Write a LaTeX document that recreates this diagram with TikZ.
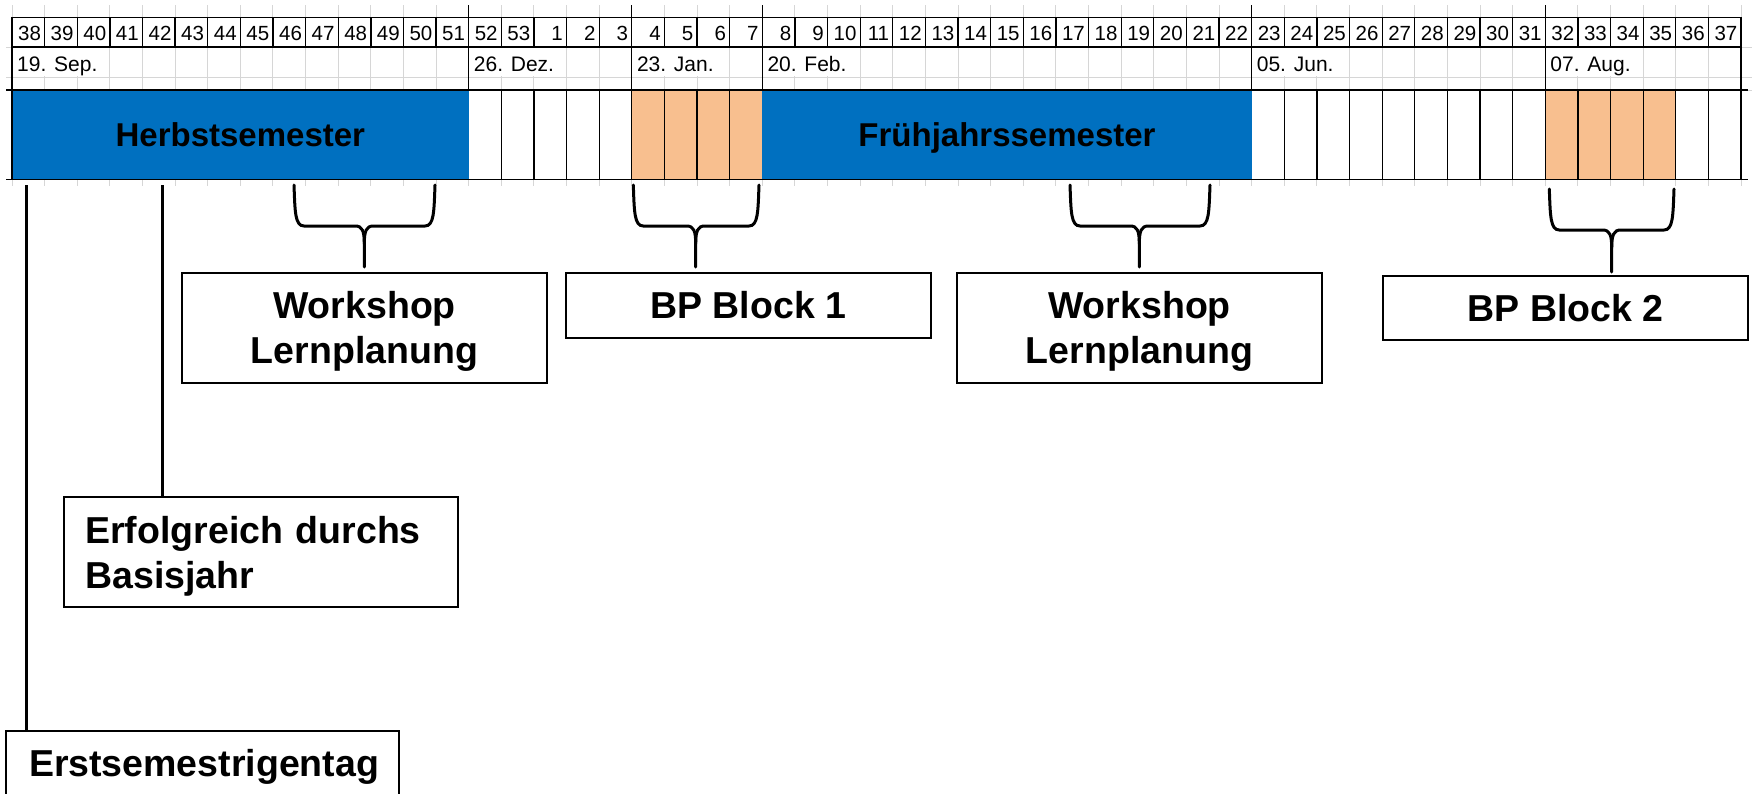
\documentclass[tikz,border=0pt]{standalone}
\usepackage{fontspec}
\setmainfont{Liberation Sans}
\definecolor{semblue}{RGB}{0,112,192}
\definecolor{blockorange}{RGB}{248,191,143}
\definecolor{gridgray}{RGB}{214,214,214}
\newcommand{\cw}{32.6226}
\newcommand{\bracepath}[7]{% xl, xr, xm, yt, yh, yb, tipname
  \coordinate (#7) at (#3,#6);
  \draw[bracestyle] (#1,#4) .. controls (#1+1,#5-14) and (#1+1,#5) .. (#1+10,#5) -- (#3-9,#5) .. controls (#3-2,#5) and (#3,#5+5) .. (#3,#5+18) -- (#7);
  \draw[bracestyle] (#2,#4) .. controls (#2-1,#5-14) and (#2-1,#5) .. (#2-10,#5) -- (#3+9,#5) .. controls (#3+2,#5) and (#3,#5+5) .. (#3,#5+18);
}
\begin{document}
\begin{tikzpicture}[x=1pt,y=-1pt,
  wk/.style={font=\fontsize{20.5}{24}\selectfont, anchor=base east, inner sep=0},
  dt/.style={font=\fontsize{21}{24}\selectfont, anchor=base west, inner sep=0},
  cellline/.style={black, line width=1.3pt},
  semester/.style={fill=semblue, inner sep=0, text height=23.9pt, text depth=0pt, font=\fontsize{33}{38}\selectfont\bfseries},
  lbl/.style={draw, line width=2pt, inner sep=0, font=\fontsize{37.5}{45}\selectfont\bfseries, align=center},
  bracestyle/.style={black, line width=3pt, line cap=round},
  conn/.style={black, line width=3pt}]
\useasboundingbox (0,0) rectangle (1752,793);
\fill[white] (0,0) rectangle (1752,793);

% light spreadsheet grid
\foreach \c in {0,...,53} {
  \draw[gridgray, line width=1pt] ({12+\c*\cw},5) -- ({12+\c*\cw},186);
}
\draw[gridgray, line width=1pt] (6,77) -- (1752,77);
\draw[gridgray, line width=1pt] (6,47) -- (1752,47);
\draw[gridgray, line width=1pt] (6,90) -- (1752,90);

% week number row
\draw[cellline] (12,17.7) rectangle (1741,47);
\foreach \c in {1,...,52} {
  \draw[cellline] ({12+\c*\cw},17.7) -- ({12+\c*\cw},47);
}
\foreach \w [count=\c from 0] in {38,39,40,41,42,43,44,45,46,47,48,49,50,51,52,53,1,2,3,4,5,6,7,8,9,10,11,12,13,14,15,16,17,18,19,20,21,22,23,24,25,26,27,28,29,30,31,32,33,34,35,36,37} {
  \node[wk] (w\c) at ({12+(\c+1)*\cw-3.5},40.7) {\w};
}

% date cells (text hides the grid of the cells it spills into)
\foreach \c in {0,14,19,23,38,47} {
  \fill[white] ({12+\c*\cw+0.8},47.8) rectangle ({12+(\c+3)*\cw-0.8},76.4);
}
\foreach \c in {14,19,23,38,47} {
  \draw[cellline] ({12+\c*\cw},5) -- ({12+\c*\cw},90);
}
\node[dt] (d1) at ({12+0*\cw+5},71) {19. Sep.};
\node[dt] (d2) at ({12+14*\cw+5},71) {26. Dez.};
\node[dt] (d3) at ({12+19*\cw+5},71) {23. Jan.};
\node[dt] (d4) at ({12+23*\cw+5},71) {20. Feb.};
\node[dt] (d5) at ({12+38*\cw+5},71) {05. Jun.};
\node[dt] (d6) at ({12+47*\cw+5},71) {07. Aug.};

% bar row cells
\foreach \c in {14,...,18} { \draw[cellline, fill=white] ({12+\c*\cw},90) rectangle ({12+(\c+1)*\cw},179.5); }
\foreach \c in {38,...,46} { \draw[cellline, fill=white] ({12+\c*\cw},90) rectangle ({12+(\c+1)*\cw},179.5); }
\foreach \c in {51,52} { \draw[cellline, fill=white] ({12+\c*\cw},90) rectangle ({12+(\c+1)*\cw},179.5); }
\foreach \c in {19,...,22} { \draw[cellline, fill=blockorange] ({12+\c*\cw},90) rectangle ({12+(\c+1)*\cw},179.5); }
\foreach \c in {47,...,50} { \draw[cellline, fill=blockorange] ({12+\c*\cw},90) rectangle ({12+(\c+1)*\cw},179.5); }

\node[semester, minimum width=456.7pt, minimum height=89.5pt] (herbst) at (240.35,134.75) {Herbstsemester};
\node[semester, minimum width=489.4pt, minimum height=89.5pt] (fruehling) at (1007,134.75) {Frühjahrssemester};

\draw[cellline] (6,90) -- (1748,90);
\draw[cellline] (6,179.5) -- (1748,179.5);
\draw[cellline] (12,17.7) -- (12,179.5);
\draw[cellline] (1741,17.7) -- (1741,179.5);

% label boxes
\node[lbl, minimum width=364.4pt, minimum height=110.6pt] (ws1) at (364.5,328) {\rule{0pt}{33pt}Workshop\\Lernplanung};
\node[lbl, minimum width=364.7pt, minimum height=65pt] (bp1) at (748.3,305.2) {BP Block 1};
\node[lbl, minimum width=364.4pt, minimum height=110.6pt] (ws2) at (1139.5,328) {\rule{0pt}{33pt}Workshop\\Lernplanung};
\node[lbl, minimum width=364.4pt, minimum height=64.3pt] (bp2) at (1565.5,307.9) {BP Block 2};
\node[lbl, align=left, text width=351.4pt, inner xsep=21pt, minimum height=110.6pt] (erf) at (261,552) {\rule{0pt}{35pt}Erfolgreich durchs\\Basisjahr};
\node[lbl, align=left, text width=347pt, inner xsep=23pt, minimum height=72.6pt] (erst) at (202.5,767) {Erstsemestrigentag};

% braces
\bracepath{294}{435}{364.3}{185}{226}{267}{t1}
\bracepath{633.3}{759}{695.7}{185}{226}{267}{t2}
\bracepath{1070}{1210}{1139.3}{185}{226}{267}{t3}
\bracepath{1549.3}{1674}{1611.7}{189}{230}{272}{t4}

% connectors
\coordinate (erstTop) at (26,185);
\coordinate (erfTop) at (162.7,185);
\draw[conn] (erstTop) -- (erstTop |- erst.north);
\draw[conn] (erfTop) -- (erfTop |- erf.north);
\end{tikzpicture}
\end{document}
